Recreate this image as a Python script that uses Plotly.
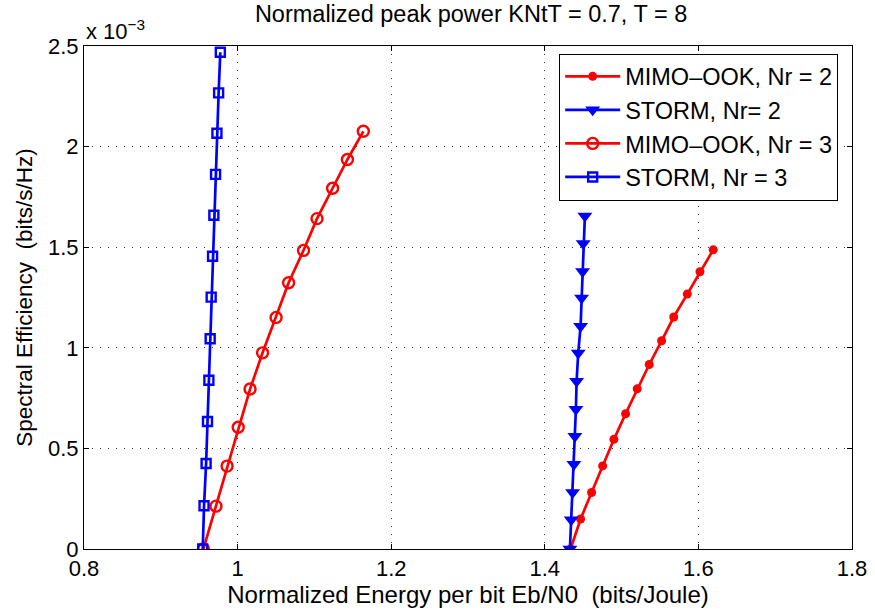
import plotly.graph_objects as go

# Data (y in units of 1e-3 bits/s/Hz)
ook2_x = [1.4336, 1.4466, 1.4609, 1.4753, 1.4900, 1.5052, 1.5203, 1.5360, 1.5521, 1.5679, 1.5855, 1.6020, 1.6193]
ook2_y = [0.0, 0.149, 0.281, 0.413, 0.545, 0.672, 0.796, 0.917, 1.035, 1.153, 1.267, 1.378, 1.487]

storm2_x = [1.4327, 1.4344, 1.4362, 1.4379, 1.4392, 1.4405, 1.4414, 1.4435, 1.4466, 1.4479, 1.4492, 1.4500, 1.4522]
storm2_y = [0.0, 0.145, 0.281, 0.421, 0.561, 0.694, 0.834, 0.974, 1.107, 1.247, 1.379, 1.519, 1.655]

ook3_x = [0.9555, 0.9718, 0.9863, 1.0008, 1.0162, 1.0325, 1.0501, 1.0664, 1.0858, 1.1034, 1.1237, 1.1430, 1.1637]
ook3_y = [0.0, 0.213, 0.412, 0.605, 0.795, 0.975, 1.151, 1.323, 1.484, 1.642, 1.793, 1.936, 2.076]

storm3_x = [0.9546, 0.9563, 0.9590, 0.9608, 0.9626, 0.9643, 0.9656, 0.9674, 0.9691, 0.9713, 0.9731, 0.9753, 0.9775]
storm3_y = [0.0, 0.215, 0.425, 0.634, 0.839, 1.045, 1.252, 1.455, 1.659, 1.862, 2.066, 2.267, 2.469]

x_ticks = [0.8, 1.0, 1.2, 1.4, 1.6, 1.8]
x_tick_labels = ["0.8", "1", "1.2", "1.4", "1.6", "1.8"]
y_ticks = [0, 0.5, 1.0, 1.5, 2.0, 2.5]
y_tick_labels = ["0", "0.5", "1", "1.5", "2", "2.5"]

RED = "#ff0000"
BLUE = "#0000ff"
FONT = "Liberation Sans, Arial, sans-serif"

fig = go.Figure()
fig.add_trace(go.Scatter(x=ook2_x, y=ook2_y, mode="lines+markers", name="MIMO\u2013OOK, Nr = 2",
                         line=dict(color=RED, width=2.7),
                         marker=dict(symbol="circle", size=9, color=RED)))
fig.add_trace(go.Scatter(x=storm2_x, y=storm2_y, mode="lines+markers", name="STORM, Nr= 2",
                         line=dict(color=BLUE, width=2.7),
                         marker=dict(symbol="triangle-down", size=13, color=BLUE)))
fig.add_trace(go.Scatter(x=ook3_x, y=ook3_y, mode="lines+markers", name="MIMO\u2013OOK, Nr = 3",
                         line=dict(color=RED, width=2.7),
                         marker=dict(symbol="circle-open", size=11, color=RED, line=dict(width=2.4, color=RED))))
fig.add_trace(go.Scatter(x=storm3_x, y=storm3_y, mode="lines+markers", name="STORM, Nr = 3",
                         line=dict(color=BLUE, width=2.7),
                         marker=dict(symbol="square-open", size=9, color=BLUE, line=dict(width=2.4, color=BLUE))))

axis_common = dict(
    showline=True, linecolor="black", linewidth=1, mirror="ticks",
    ticks="inside", ticklen=5, tickcolor="black",
    showgrid=True, gridcolor="#333333", gridwidth=1, griddash="1px,7px",
    zeroline=False, automargin=False,
    tickfont=dict(family=FONT, size=22, color="black"),
)

fig.update_xaxes(range=[0.8, 1.8], tickvals=x_ticks, ticktext=x_tick_labels,
                 title=dict(text="Normalized Energy per bit Eb/N0  (bits/Joule)",
                            font=dict(family=FONT, size=24, color="black"), standoff=0),
                 **axis_common)
fig.update_yaxes(range=[0, 2.5], tickvals=y_ticks, ticktext=y_tick_labels,
                 title=dict(text="Spectral Efficiency  (bits/s/Hz)",
                            font=dict(family=FONT, size=22.5, color="black"), standoff=9),
                 **axis_common)

fig.update_layout(
    width=875, height=611,
    margin=dict(l=84, r=23, t=46, b=62),
    paper_bgcolor="white", plot_bgcolor="white",
    font=dict(family=FONT, size=22, color="black"),
    title=dict(text="Normalized peak power KNtT = 0.7, T = 8", xref="paper", x=0.504, xanchor="center",
               y=0.977, yanchor="middle", font=dict(family=FONT, size=23.5, color="black")),
    legend=dict(x=0.982, xanchor="right", y=0.985, yanchor="top",
                bordercolor="black", borderwidth=1, bgcolor="white",
                font=dict(family=FONT, size=23.5, color="black"),
                itemwidth=55, tracegroupgap=0),
    showlegend=True,
)

fig.add_annotation(text="x 10<sup>\u22123</sup>", xref="paper", yref="paper",
                   x=0.0, y=1.0, xanchor="left", yanchor="bottom", yshift=0,
                   showarrow=False, font=dict(family=FONT, size=22, color="black"))

fig.write_html("out.html", config={"displayModeBar": False},
               post_script="document.body.style.margin='0px';")
